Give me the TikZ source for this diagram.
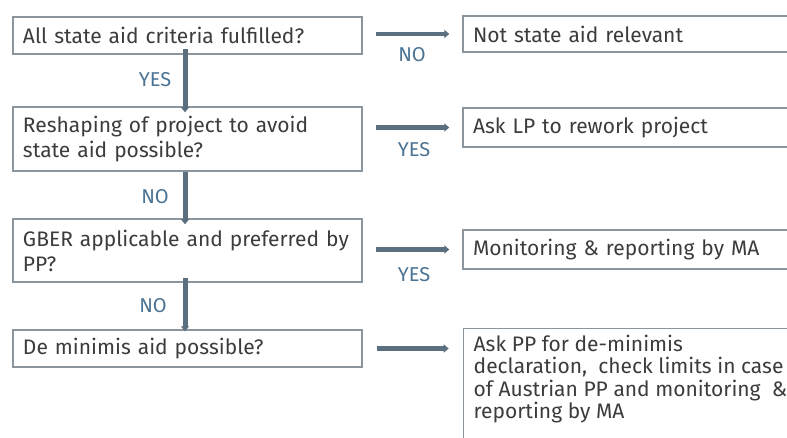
\documentclass[tikz,border=0pt]{standalone}
\usepackage{fontspec}
\setmainfont{Fira Sans}
\usetikzlibrary{arrows.meta}
\definecolor{txt}{HTML}{3C3C3C}
\definecolor{boxc}{HTML}{8A959E}
\definecolor{arr}{HTML}{5A6F7F}
\definecolor{lab}{HTML}{4A7394}
\tikzset{
  x=1pt,y=-1pt,
  qbox/.style={draw=boxc,line width=1.4pt,rectangle,minimum width=349pt,text width=329pt,inner xsep=10pt,align=left,text=txt,font=\fontsize{21}{25}\selectfont},
  abox/.style={draw=boxc,line width=1.4pt,rectangle,minimum width=337pt,text width=317pt,inner xsep=10pt,align=left,text=txt,font=\fontsize{21}{25}\selectfont},
  varrow/.style={draw=arr,line width=5pt,-{Triangle[width=8pt,length=5pt]}},
  harrow/.style={draw=arr,line width=4.5pt,-{Triangle[width=8pt,length=5pt]}},
  lbl/.style={text=lab,font=\fontsize{20}{22}\selectfont,inner sep=0pt}
}
\begin{document}
\begin{tikzpicture}
\useasboundingbox (0,0) rectangle (787,438);
\clip (0,0) rectangle (787,438);
\fill[white] (0,0) rectangle (787,438);
% left question boxes
\node[qbox,minimum height=37pt] (l1) at (187.5,35.5) {All state aid criteria fulfilled?};
\node[qbox,minimum height=64pt] (l2) at (187.5,139) {Reshaping of project to avoid\\state aid possible?};
\node[qbox,minimum height=63pt] (l3) at (187.5,250.5) {GBER applicable and preferred by\\PP?};
\node[qbox,minimum height=37pt] (l4) at (187.5,348.5) {De minimis aid possible?};
% right answer boxes
\node[abox,minimum height=36pt] (r1) at (631.5,34) {Not state aid relevant};
\node[abox,minimum height=39pt] (r2) at (631.5,127.5) {Ask LP to rework project};
\node[abox,minimum height=39pt] (r3) at (631.5,249.5) {Monitoring \& reporting by MA};
\node[draw=boxc,line width=1.4pt,rectangle,anchor=north west,inner xsep=10pt,inner ysep=6pt,text=txt,font=\fontsize{21}{22.5}\selectfont] (r4) at (463,328)
  {\parbox[t][130pt][t]{317pt}{\raggedright Ask PP for de-minimis\\declaration,\ \ check limits in case\\of Austrian PP and monitoring\ \ \&\\reporting by MA}};
% vertical arrows
\draw[varrow] ([yshift=6pt]l1.south -| 185,0) -- ([yshift=-6pt]l2.north -| 185,0);
\draw[varrow] ([yshift=0pt]l2.south -| 185,0) -- ([yshift=-6pt]l3.north -| 185,0);
\draw[varrow] ([yshift=5pt]l3.south -| 185,0) -- ([yshift=-2pt]l4.north -| 185,0);
\node[lbl] (y1) at (155,80) {YES};
\node[lbl] (n2) at (155,197) {NO};
\node[lbl] (n3) at (153,306) {NO};
% horizontal arrows
\draw[harrow] ([xshift=-86pt]r1.west) -- ([xshift=-13pt]r1.west);
\draw[harrow] ([xshift=-86pt]r2.west) -- ([xshift=-13pt]r2.west);
\draw[harrow] ([xshift=-86pt]r3.west) -- ([xshift=-13pt]r3.west);
\draw[harrow] ([xshift=14pt]l4.east) -- ([xshift=86pt]l4.east);
\node[lbl] (n1) at (412,55) {NO};
\node[lbl] (y2) at (414,150) {YES};
\node[lbl] (y3) at (414,275) {YES};
\end{tikzpicture}
\end{document}
